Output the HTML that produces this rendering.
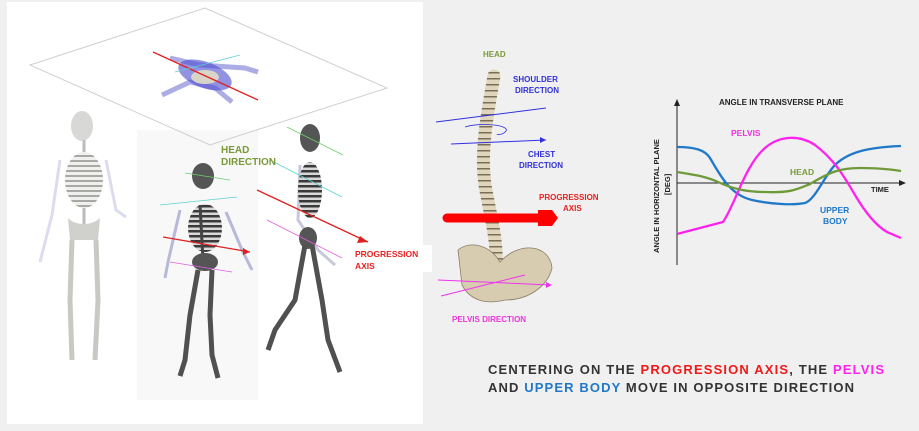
<!DOCTYPE html>
<html><head><meta charset="utf-8"><style>
html,body{margin:0;padding:0;background:#f0f0f0;}
svg{display:block;}
text{font-family:"Liberation Sans",sans-serif;font-weight:bold;}
</style></head><body>
<svg width="919" height="431" viewBox="0 0 919 431" xmlns="http://www.w3.org/2000/svg">
<defs>
<pattern id="ribsL" width="6" height="5" patternUnits="userSpaceOnUse"><rect width="6" height="5" fill="#f0f0ee"/><rect y="0" width="6" height="2" fill="#a8a8a4"/></pattern>
<pattern id="ribsD" width="6" height="5" patternUnits="userSpaceOnUse"><rect width="6" height="5" fill="#d8d8d8"/><rect y="0" width="6" height="2.5" fill="#3a3a3a"/></pattern>
<pattern id="vert" width="6" height="6" patternUnits="userSpaceOnUse"><rect width="6" height="6" fill="#e0d6bc"/><rect y="0" width="6" height="1.5" fill="#7a6e58"/></pattern>
</defs>
<rect width="919" height="431" fill="#f0f0f0"/>
<rect x="7" y="2" width="416" height="422" fill="#ffffff"/>
<rect x="137" y="130" width="121" height="270" fill="#f8f8f8"/>
<!-- plane -->
<polygon points="30,65 205,8 387,88 210,145" fill="none" stroke="#cfcfcf" stroke-width="1"/>
<!-- top-view figure -->
<g>
<path d="M170,58 L200,65 L245,68 L258,72" stroke="#6a6ad0" stroke-width="5" fill="none" opacity="0.55"/>
<path d="M162,95 L190,82 L215,88 L232,102" stroke="#6a6ad0" stroke-width="5" fill="none" opacity="0.55"/>
<ellipse cx="205" cy="75" rx="28" ry="13" fill="#4a4ad0" opacity="0.6" transform="rotate(20 205 75)"/>
<ellipse cx="205" cy="77" rx="14" ry="7" fill="#d8d4c8"/>
<line x1="153" y1="52" x2="258" y2="100" stroke="#e02020" stroke-width="1.3"/>
<line x1="175" y1="72" x2="240" y2="55" stroke="#60d0d0" stroke-width="0.8"/>
</g>
<!-- skeleton 1 (back view) -->
<g>
<path d="M60,160 L52,215 L40,262 M106,160 L116,210 L126,217" stroke="#dcdcf0" stroke-width="3" fill="none"/>
<ellipse cx="82" cy="126" rx="11" ry="15" fill="#d8d8d6"/>
<line x1="84" y1="140" x2="84" y2="225" stroke="#bbb" stroke-width="3"/>
<ellipse cx="84" cy="180" rx="19" ry="28" fill="url(#ribsL)"/>
<path d="M68,218 C75,226 92,226 100,218 L98,240 L70,240 Z" fill="#d0d0cc"/>
<path d="M72,240 L70,300 L72,360 M96,240 L98,300 L95,360" stroke="#c8c8c4" stroke-width="5" fill="none"/>
</g>
<!-- skeleton 2 -->
<g>
<path d="M180,210 L168,262 L165,278 M226,212 L242,250 L252,270" stroke="#b8b8d8" stroke-width="3" fill="none"/>
<ellipse cx="203" cy="176" rx="11" ry="13" fill="#555"/>
<ellipse cx="205" cy="228" rx="17" ry="24" fill="url(#ribsD)"/>
<line x1="200" y1="205" x2="203" y2="260" stroke="#444" stroke-width="3"/>
<ellipse cx="205" cy="262" rx="13" ry="9" fill="#555"/>
<path d="M198,270 L190,315 L185,360 L180,376 M212,270 L210,315 L212,355 L218,378" stroke="#505050" stroke-width="5" fill="none"/>
</g>
<line x1="163" y1="237" x2="250" y2="252" stroke="#e02020" stroke-width="1.3"/>
<polygon points="250,252 243,248 243,255" fill="#e02020"/>
<line x1="185" y1="173" x2="230" y2="180" stroke="#6bd06b" stroke-width="0.8"/>
<line x1="160" y1="205" x2="237" y2="197" stroke="#60d0d0" stroke-width="0.8"/>
<line x1="170" y1="262" x2="232" y2="272" stroke="#e060e0" stroke-width="0.8"/>
<!-- skeleton 3 -->
<g>
<path d="M300,165 L298,220 L318,250 L335,265" stroke="#c8c8dc" stroke-width="3" fill="none"/>
<ellipse cx="310" cy="138" rx="10" ry="14" fill="#555"/>
<ellipse cx="310" cy="190" rx="12" ry="28" fill="url(#ribsD)"/>
<ellipse cx="308" cy="238" rx="9" ry="11" fill="#555"/>
<path d="M305,245 L295,300 L275,330 L268,350 M312,245 L322,300 L328,340 L340,372" stroke="#505050" stroke-width="5" fill="none"/>
</g>
<line x1="257" y1="190" x2="368" y2="242" stroke="#e02020" stroke-width="1.3"/>
<polygon points="368,242 360,236 357,243" fill="#e02020"/>
<line x1="287" y1="127" x2="343" y2="155" stroke="#6bd06b" stroke-width="0.8"/>
<line x1="270" y1="160" x2="342" y2="197" stroke="#60d0d0" stroke-width="0.8"/>
<line x1="267" y1="220" x2="342" y2="258" stroke="#e060e0" stroke-width="0.8"/>
<text x="221" y="153" font-size="10" fill="#7a9a3a">HEAD</text>
<text x="221" y="165" font-size="10" fill="#7a9a3a">DIRECTION</text>
<rect x="352" y="245" width="80" height="27" fill="#fff"/>
<text x="355" y="257" font-size="8.5" fill="#e82020">PROGRESSION</text>
<text x="355" y="269" font-size="8.5" fill="#e82020">AXIS</text>
<!-- spine -->
<path d="M494,76 C488,110 480,150 485,185 C490,215 498,240 496,270" stroke="url(#vert)" stroke-width="13" fill="none" stroke-linecap="round"/>
<path d="M458,250 C470,240 490,245 500,262 C520,240 550,245 552,268 C548,285 530,300 505,300 C485,305 470,300 462,285 Z" fill="#d8ccb0" stroke="#8a7e68" stroke-width="0.8"/>
<line x1="436" y1="122" x2="546" y2="108" stroke="#3030e0" stroke-width="1"/>
<line x1="451" y1="144" x2="546" y2="140" stroke="#3030e0" stroke-width="1"/>
<polygon points="546,140 540,137 540,143" fill="#3030e0"/>
<path d="M465,127 C480,122 510,125 506,131 C503,135 497,135 497,134" stroke="#3030e0" fill="none" stroke-width="0.8"/>
<line x1="447" y1="218" x2="540" y2="218" stroke="#f00" stroke-width="9" stroke-linecap="round"/>
<polygon points="538,210 552,210 558,218 552,226 538,226" fill="#f00"/>
<line x1="438" y1="280" x2="550" y2="285" stroke="#ee33ee" stroke-width="1"/>
<polygon points="552,285 546,282 546,288" fill="#ee33ee"/>
<line x1="441" y1="296" x2="525" y2="275" stroke="#ee33ee" stroke-width="1"/>
<text x="483" y="57" font-size="8" fill="#7a9a3a">HEAD</text>
<text x="513" y="82" font-size="8" fill="#3030d8">SHOULDER</text>
<text x="515" y="93" font-size="8" fill="#3030d8">DIRECTION</text>
<text x="528" y="157" font-size="8" fill="#3030d8">CHEST</text>
<text x="519" y="168" font-size="8" fill="#3030d8">DIRECTION</text>
<text x="539" y="200" font-size="8" fill="#e82020">PROGRESSION</text>
<text x="563" y="211" font-size="8" fill="#e82020">AXIS</text>
<text x="452" y="322" font-size="8" fill="#ee33dd">PELVIS DIRECTION</text>
<!-- chart -->
<line x1="677" y1="102" x2="677" y2="265" stroke="#222" stroke-width="1"/>
<polygon points="677,99 674,106 680,106" fill="#222"/>
<line x1="677" y1="183" x2="903" y2="183" stroke="#222" stroke-width="1"/>
<polygon points="906,183 899,180 899,186" fill="#222"/>
<text x="719" y="105" font-size="8" fill="#222">ANGLE IN TRANSVERSE PLANE</text>
<text transform="translate(659,253) rotate(-90)" font-size="7.5" fill="#222">ANGLE IN HORIZONTAL PLANE</text>
<text transform="translate(670,195) rotate(-90)" font-size="7.5" fill="#222">[DEG]</text>
<path d="M677,147 C695,147 705,150 710,158 C720,175 730,195 752,200 C775,205 795,205 805,203 C815,200 825,175 835,165 C850,150 875,147 901,146" stroke="#1f78c8" stroke-width="2.3" fill="none"/>
<path d="M677,234 L723,222 C735,205 745,165 765,148 C780,135 800,135 815,145 C835,160 845,178 855,195 C865,212 875,225 887,232 L901,238" stroke="#ff22ee" stroke-width="2.3" fill="none"/>
<path d="M677,172 C695,175 705,176 718,182 C735,190 750,192 765,192 C790,193 795,190 810,184 C830,172 840,168 860,168 C880,168 895,170 901,171" stroke="#6f9a3a" stroke-width="2.3" fill="none"/>
<text x="731" y="136" font-size="8.5" fill="#ee33dd">PELVIS</text>
<text x="790" y="175" font-size="8.5" fill="#7a9a3a">HEAD</text>
<text x="871" y="192" font-size="7.5" fill="#222">TIME</text>
<text x="820" y="213" font-size="8.5" fill="#1f78c8">UPPER</text>
<text x="823" y="224" font-size="8.5" fill="#1f78c8">BODY</text>
<!-- caption -->
<text x="488" y="374" font-size="13" fill="#333" textLength="396" lengthAdjust="spacing">CENTERING ON THE <tspan fill="#f01818">PROGRESSION AXIS</tspan>, THE <tspan fill="#ff22ee">PELVIS</tspan></text>
<text x="488" y="392" font-size="13" fill="#333" textLength="366" lengthAdjust="spacing">AND <tspan fill="#1f78c8">UPPER BODY</tspan> MOVE IN OPPOSITE DIRECTION</text>
</svg>
</body></html>
